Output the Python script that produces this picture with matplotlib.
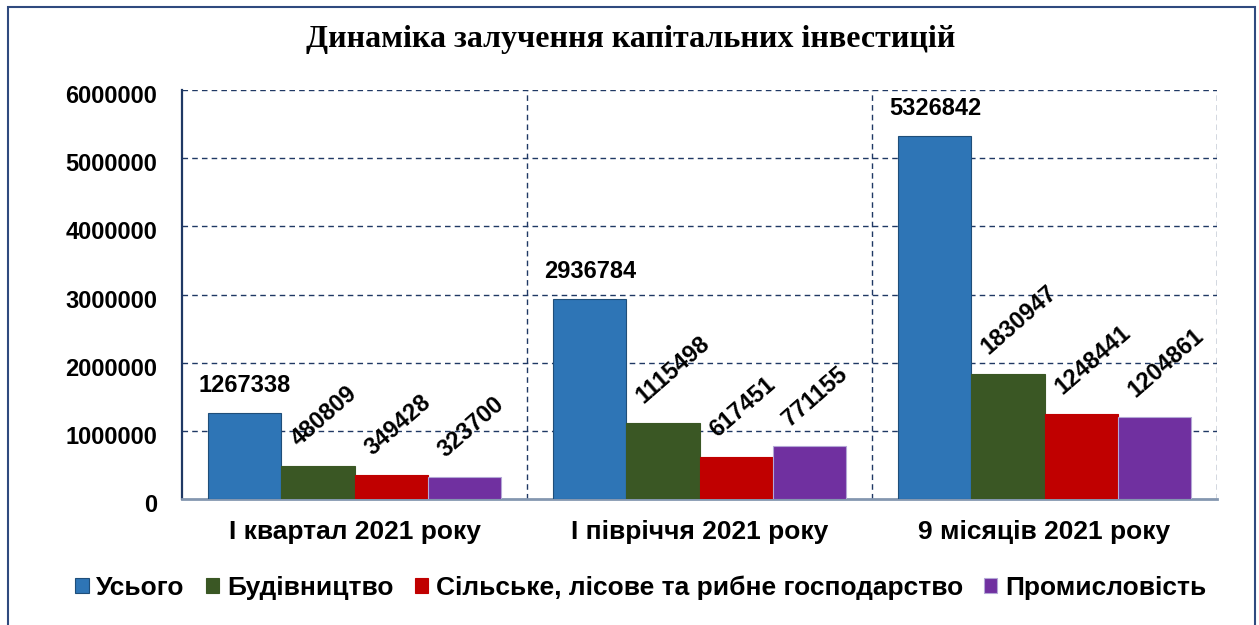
import matplotlib
matplotlib.use("Agg")
import matplotlib.pyplot as plt
from matplotlib.patches import Rectangle, Patch
from matplotlib.transforms import ScaledTranslation
import numpy as np

title = "Динаміка залучення капітальних інвестицій"
categories = ["І квартал 2021 року", "І півріччя 2021 року", "9 місяців 2021 року"]
series_names = ["Усього", "Будівництво", "Сільське, лісове та рибне господарство", "Промисловість"]
total = [1267338, 2936784, 5326842]
construction = [480809, 1115498, 1830947]
agriculture = [349428, 617451, 1248441]
industry = [323700, 771155, 1204861]
y_ticks = [0, 1000000, 2000000, 3000000, 4000000, 5000000, 6000000]

series = [total, construction, agriculture, industry]
colors = ["#2E75B6", "#3A5724", "#C00000", "#7030A0"]
edges = ["#1F4E79", "#3A5724", "#C00000", "#B4A7D6"]

navy = "#1F3864"
fig = plt.figure(figsize=(12.59, 6.25), dpi=100)
ax = fig.add_axes([182/1259, 1-499/625, (1217-182)/1259, (499-90)/625])

x = np.arange(len(categories))
w = 0.2116
for i, (vals, c, ec) in enumerate(zip(series, colors, edges)):
    pos = x + (i - 1.5) * w
    ax.bar(pos, vals, width=w, color=c, edgecolor=ec, linewidth=0.8, zorder=3, label=series_names[i])
    for px, v in zip(pos, vals):
        if i == 0:
            ax.annotate(str(v), xy=(px, v), xytext=(0, 27), textcoords="offset pixels",
                        ha="center", va="center", fontsize=17, fontweight="bold",
                        family="Liberation Sans", zorder=5)
        else:
            ax.annotate(str(v), xy=(px, v), xytext=(-19, 19), textcoords="offset pixels",
                        ha="left", va="baseline", rotation=41, rotation_mode="anchor",
                        fontsize=17, fontweight="bold", family="Liberation Sans", zorder=5)

ax.set_xlim(-0.5, 2.5)
ax.set_ylim(0, 6000000)
ax.set_yticks(y_ticks)
ax.set_yticklabels([str(t) for t in y_ticks], fontsize=17, fontweight="bold", family="Liberation Sans")
ax.set_xticks(x)
ax.set_xticklabels(categories, fontsize=19, fontweight="bold", family="Liberation Sans")
ax.tick_params(axis="y", length=0, pad=18)
ax.tick_params(axis="x", length=0, pad=15)
shift = ScaledTranslation(0, -4/100, fig.dpi_scale_trans)
for lab in ax.get_yticklabels():
    lab.set_transform(lab.get_transform() + shift)

for t in y_ticks[1:]:
    ax.axhline(t, color=navy, lw=1.0, ls=(0, (4, 3)), zorder=1)
for b in [0.5, 1.5, 2.5]:
    ax.axvline(b, color=navy, lw=1.0, ls=(0, (4, 3)), zorder=1)

for s in ["top", "right"]:
    ax.spines[s].set_visible(False)
ax.spines["left"].set_color(navy)
ax.spines["left"].set_linewidth(1.6)
ax.spines["bottom"].set_color("#8497B0")
ax.spines["bottom"].set_linewidth(2.0)
ax.spines["bottom"].set_linestyle((0, (3, 1)))

fig.text(631/1259, 1-39/625, title, ha="center", va="center", fontsize=23,
         fontweight="bold", family="Liberation Serif")

handles = [Patch(facecolor=c, edgecolor=ec, lw=0.8) for c, ec in zip(colors, edges)]
leg = fig.legend(handles, series_names, loc="center", bbox_to_anchor=(641/1259, 1-588/625),
                 ncol=4, frameon=False, handlelength=0.5, handleheight=0.5, handletextpad=0.3,
                 columnspacing=0.8, prop={"family": "Liberation Sans", "weight": "bold", "size": 19})

fig.patches.append(Rectangle((8/1259, -0.05), (1255-8)/1259, 1.05 - 7/625,
                             transform=fig.transFigure, fill=False, edgecolor="#2F4A7F", lw=1.5))

fig.savefig("out.png", dpi=100)
